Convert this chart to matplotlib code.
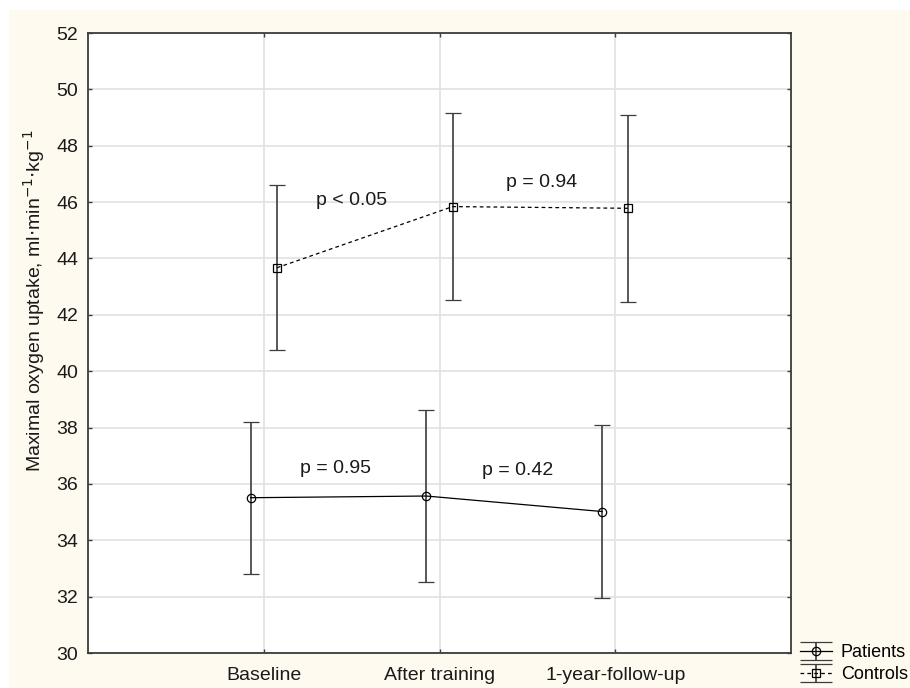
import matplotlib.pyplot as plt
from matplotlib.patches import Rectangle
from matplotlib.legend_handler import HandlerErrorbar

plt.rcParams['font.family'] = ['Liberation Sans', 'DejaVu Sans']

stages = ["Baseline", "After training", "1-year-follow-up"]
x_pos = [1, 2, 3]

patients_mean = [35.51, 35.57, 35.02]
patients_err = [2.69, 3.06, 3.08]
controls_mean = [43.67, 45.84, 45.78]
controls_err = [2.93, 3.32, 3.32]

p_labels = ["p = 0.95", "p = 0.42", "p < 0.05", "p = 0.94"]
p_x = [1.41, 2.445, 1.50, 2.58]
p_y = [36.53, 36.46, 46.04, 46.71]

dark = "#3c3c3c"
shift = 0.075


class WideCapHandler(HandlerErrorbar):
    # legend caps span the whole handle, as in the original
    def create_artists(self, legend, orig_handle, xdescent, ydescent,
                       width, height, fontsize, trans):
        artists = super().create_artists(legend, orig_handle, xdescent, ydescent,
                                         width, height, fontsize, trans)
        for a in artists:
            if hasattr(a, "get_marker") and a.get_marker() == "_":
                a.set_markersize(width)
        return artists


fig = plt.figure(figsize=(9.1, 6.88), dpi=100, facecolor="white")
fig.patches.append(Rectangle((9 / 910, 0), 1, 1 - 10 / 688, transform=fig.transFigure,
                             facecolor="#fffaf0", edgecolor="none", zorder=-10))
ax = fig.add_axes([88 / 910, 1 - 653 / 688, 703 / 910, 620 / 688])

ax.errorbar([x - shift for x in x_pos], patients_mean, yerr=patients_err,
            color="black", ecolor=dark, elinewidth=1.2, capsize=6, capthick=1.2,
            linestyle="-", linewidth=0.9, marker="o", markersize=6,
            markerfacecolor="none", markeredgecolor="black", markeredgewidth=0.9,
            label="Patients")
ax.errorbar([x + shift for x in x_pos], controls_mean, yerr=controls_err,
            color="black", ecolor=dark, elinewidth=1.2, capsize=6, capthick=1.2,
            linestyle=(0, (3, 2.5)), linewidth=0.9, marker="s", markersize=6,
            markerfacecolor="none", markeredgecolor="black", markeredgewidth=0.9,
            label="Controls")

for lab, tx, ty in zip(p_labels, p_x, p_y):
    ax.text(tx, ty, lab, ha="center", va="center", fontsize=14, color="#1a1a1a")

ax.set_xlim(0, 4)
ax.set_ylim(30, 52)
ax.set_xticks(x_pos)
ax.set_xticklabels(stages)
ax.set_yticks(range(30, 53, 2))
ax.tick_params(direction="in", length=3, width=1, color=dark, top=True, right=True,
               labelsize=14, labelcolor="#1a1a1a")
ax.tick_params(axis="y", pad=7)
ax.tick_params(axis="x", pad=10)
ax.grid(True, color="#e2e2e2", linewidth=1.2)
ax.set_axisbelow(True)
for s in ax.spines.values():
    s.set_color(dark)
    s.set_linewidth(1.3)

ax.set_ylabel("Maximal oxygen uptake, ml$\\cdot$min$^{-1}$$\\cdot$kg$^{-1}$",
              fontsize=14, color="#1a1a1a", labelpad=5)
ax.yaxis.set_label_coords(-0.058, 0.568)

h, l = ax.get_legend_handles_labels()
leg = fig.legend(h, l, loc="upper left", bbox_to_anchor=(800 / 910, 1 - 644 / 688),
                 frameon=False, fontsize=13, handlelength=1.75, handletextpad=0.5,
                 labelspacing=0.3, borderpad=0, borderaxespad=0,
                 handler_map={type(h[0]): WideCapHandler()})

fig.savefig("out.png", dpi=100, facecolor=fig.get_facecolor())
